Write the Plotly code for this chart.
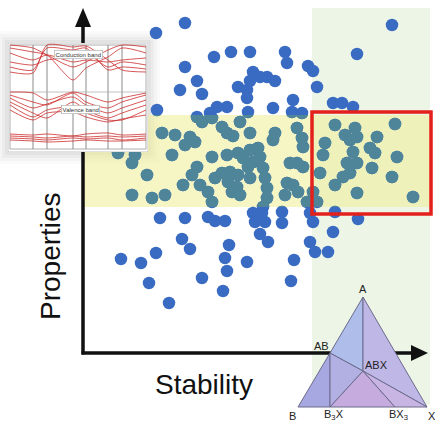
import plotly.graph_objects as go

W, H = 435, 427

# ---------------- data (chart units = picture pixels, y downwards) ----------------
# above the highlighted band
top_x = [185, 156, 392, 357, 214, 231, 250, 285, 287, 185, 308, 313, 253, 197, 250, 267, 275, 260, 238, 247,
         180, 202, 317, 247, 293, 157, 217, 227, 210, 248, 273, 292, 302, 333, 342, 353, 197]
top_y = [23, 33, 25, 54, 57, 52, 52, 52, 63, 67, 66, 71, 72, 81, 81, 77, 81, 77, 87, 90,
         90, 94, 87, 98, 100, 110, 107, 107, 113, 112, 108, 112, 113, 103, 103, 107, 117]
# inside the band, left of the selection box
band_x = [118, 135, 132, 132, 162, 175, 190, 195, 185, 172, 202, 212, 222, 227, 233, 240, 250, 212, 227, 238,
          250, 258, 260, 273, 275, 297, 302, 303, 197, 192, 183, 200, 215, 222, 230, 238, 228, 208, 212, 232,
          237, 240, 250, 253, 263, 265, 267, 267, 263, 248, 243, 287, 293, 285, 298, 303, 297, 307, 165, 152,
          147, 313, 317, 290]
band_y = [153, 155, 163, 195, 133, 135, 137, 142, 145, 155, 122, 118, 127, 133, 136, 122, 133, 157, 155, 153,
          150, 148, 157, 140, 133, 128, 138, 147, 167, 175, 185, 185, 178, 173, 172, 175, 182, 192, 202, 192,
          187, 195, 178, 162, 168, 178, 188, 198, 207, 167, 158, 183, 185, 195, 192, 167, 163, 202, 195, 198,
          175, 192, 202, 163]
# inside the red selection box
box_x = [335, 345, 355, 357, 350, 395, 377, 370, 375, 325, 323, 353, 347, 357, 343, 335, 320, 372, 397, 392,
         357, 413, 350]
box_y = [125, 135, 128, 137, 140, 124, 137, 148, 153, 143, 155, 152, 163, 163, 177, 185, 173, 168, 157, 177,
         193, 197, 173]
# below the band
low_x = [160, 185, 208, 215, 225, 253, 262, 255, 265, 260, 268, 282, 282, 310, 313, 335, 358, 333, 182,
         190, 229, 310, 315, 328, 121, 141, 156, 225, 247, 227, 294, 149, 202, 223, 291, 169]
low_y = [218, 218, 217, 221, 221, 213, 213, 222, 222, 234, 242, 212, 223, 213, 222, 212, 219, 232, 239,
         249, 245, 242, 252, 252, 259, 263, 253, 258, 262, 271, 260, 283, 278, 291, 281, 303]

stability = top_x + band_x + box_x + low_x
properties = top_y + band_y + box_y + low_y

# band-structure inset: k-path positions and band energies (picture pixels)
k_path = [10, 33, 47, 73, 86, 108, 122, 146]
conduction_bands = [
    [45, 48, 55, 67, 62, 50, 45, 47],
    [48, 52, 55, 80, 68, 57, 48, 53],
    [53, 60, 55, 62, 60, 62, 60, 58],
    [62, 65, 60, 57, 53, 67, 62, 65],
    [67, 70, 48, 50, 48, 70, 67, 69],
    [72, 73, 45, 47, 46, 60, 70, 72],
]
valence_bands = [
    [92, 93, 100, 92, 95, 102, 98, 93],
    [95, 102, 105, 93, 102, 108, 102, 95],
    [98, 108, 104, 97, 105, 113, 108, 100],
    [102, 113, 118, 102, 110, 118, 113, 105],
    [105, 117, 110, 107, 113, 120, 120, 110],
    [110, 120, 113, 112, 117, 122, 119, 115],
]
core_bands = [
    [134, 135, 134, 136, 134, 133, 135, 134],
    [136, 137, 138, 136, 137, 136, 137, 136],
    [138, 139, 140, 138, 139, 138, 140, 138],
    [140, 141, 142, 141, 140, 141, 141, 140],
]
k_lines = [33, 47, 73, 86, 108, 122]

# ternary phase diagram
tern = {"A": (363, 297), "B": (298, 407), "X": (427, 407), "AB": (330, 353),
        "B3X": (330, 407), "BX3": (395, 407), "ABX": (363, 371)}
tern_regions = [
    (["A", "AB", "ABX"], "#aebde9"),
    (["A", "ABX", "X"], "#bfb7e6"),
    (["AB", "B", "B3X"], "#a7a8e2"),
    (["AB", "B3X", "ABX"], "#b2b0e3"),
    (["B3X", "ABX", "BX3"], "#c6abdf"),
    (["ABX", "X", "BX3"], "#c9b5e3"),
]
tern_labels = [("A", 363, 289, "center"), ("AB", 321, 346, "center"), ("ABX", 376, 365, "center"),
               ("B", 292, 416, "center"), ("B<sub>3</sub>X", 334, 415, "center"),
               ("BX<sub>3</sub>", 398, 415, "center"), ("X", 426, 416, "left")]

# layout positions
AX_X, AX_Y = 83, 353
BAND_Y0, BAND_Y1 = 115, 207
BAND_X0, BAND_X1 = 83, 432
GREEN_X0, GREEN_X1, GREEN_Y0, GREEN_Y1 = 312, 430, 8, 405
BOX = (312, 112, 431, 214)
INSET = (8, 43, 148, 152)

BLUE = "#3a6bc2"
TEAL = "#4f8598"

fig = go.Figure()

fig.add_trace(go.Scatter(x=stability, y=properties, mode="markers", xaxis="x", yaxis="y",
                         marker=dict(size=12.5, color=BLUE, line=dict(width=0)), hoverinfo="skip"))
fig.add_trace(go.Scatter(x=stability, y=properties, mode="markers", xaxis="x2", yaxis="y2",
                         cliponaxis=True,
                         marker=dict(size=12.5, color=TEAL, line=dict(width=0)), hoverinfo="skip"))

for bands in (conduction_bands, valence_bands, core_bands):
    for b in bands:
        fig.add_trace(go.Scatter(x=k_path, y=b, mode="lines", xaxis="x3", yaxis="y3",
                                 line=dict(color="rgba(205,45,45,0.8)", width=1, shape="spline", smoothing=0.7),
                                 hoverinfo="skip"))

shapes = []
for i, a in enumerate([0.02, 0.025, 0.03, 0.035]):
    d = 12 - 3 * i
    shapes.append(dict(type="rect", xref="x", yref="y", layer="below",
                       x0=INSET[0] - d, y0=INSET[1] - d, x1=INSET[2] + d, y1=INSET[3] + d,
                       fillcolor=f"rgba(0,0,0,{a})", line=dict(width=0)))
shapes.append(dict(type="rect", xref="x", yref="y", layer="below",
                   x0=GREEN_X0, x1=GREEN_X1, y0=GREEN_Y0, y1=GREEN_Y1,
                   fillcolor="#edf5e6", line=dict(width=0)))
shapes.append(dict(type="rect", xref="x", yref="y", layer="below",
                   x0=BAND_X0, x1=BAND_X1, y0=BAND_Y0, y1=BAND_Y1,
                   fillcolor="rgba(238,238,150,0.55)", line=dict(width=0)))
shapes.append(dict(type="line", xref="x", yref="y", layer="below", x0=AX_X, y0=AX_Y + 1.5, x1=AX_X, y1=24,
                   line=dict(color="#111", width=3.5)))
shapes.append(dict(type="path", xref="x", yref="y", layer="below",
                   path=f"M{AX_X - 8},27 L{AX_X},8 L{AX_X + 8},27 Z", fillcolor="#111", line=dict(width=0)))
shapes.append(dict(type="line", xref="x", yref="y", layer="below", x0=AX_X - 1.5, y0=AX_Y, x1=414, y1=AX_Y,
                   line=dict(color="#111", width=3.5)))
shapes.append(dict(type="path", xref="x", yref="y", layer="below",
                   path=f"M411,{AX_Y - 8} L428,{AX_Y} L411,{AX_Y + 8} Z", fillcolor="#111", line=dict(width=0)))
for verts, col in tern_regions:
    pts = [tern[v] for v in verts]
    p = "M" + " L".join(f"{x},{y}" for x, y in pts) + " Z"
    shapes.append(dict(type="path", xref="x", yref="y", layer="below", path=p,
                       fillcolor=col, line=dict(color="#6b6b8c", width=1)))
shapes.append(dict(type="rect", xref="x", yref="y", layer="above",
                   x0=BOX[0], y0=BOX[1], x1=BOX[2], y1=BOX[3],
                   fillcolor="rgba(0,0,0,0)", line=dict(color="#e3201b", width=3.5)))
shapes.append(dict(type="rect", xref="x3", yref="y3", layer="below",
                   x0=INSET[0], y0=INSET[1], x1=INSET[2], y1=INSET[3],
                   fillcolor="white", line=dict(color="#c4c4c4", width=1)))
shapes.append(dict(type="rect", xref="x3", yref="y3", layer="below",
                   x0=10, y0=45, x1=146, y1=149,
                   fillcolor="white", line=dict(color="#9a9a9a", width=0.8)))
for kx in k_lines:
    shapes.append(dict(type="line", xref="x3", yref="y3", layer="below",
                       x0=kx, x1=kx, y0=45, y1=149, line=dict(color="#8a8a8a", width=1)))
shapes.append(dict(type="line", xref="x3", yref="y3", layer="below",
                   x0=10, x1=146, y0=92, y1=92, line=dict(color="#b0b0b0", width=0.8)))

annotations = [
    dict(x=50, y=256, xref="x", yref="y", text="Properties", textangle=-90, showarrow=False,
         font=dict(family="Liberation Sans", size=28, color="#111")),
    dict(x=204, y=384, xref="x", yref="y", text="Stability", showarrow=False,
         font=dict(family="Liberation Sans", size=28, color="#111")),
]
for txt, x, y, anc in tern_labels:
    annotations.append(dict(x=x, y=y, xref="x", yref="y", text=txt, showarrow=False, xanchor=anc,
                            font=dict(family="Liberation Sans", size=11, color="#222")))
annotations.append(dict(x=78, y=54, xref="x3", yref="y3", text="Conduction band", showarrow=False,
                        bgcolor="white", bordercolor="#a8a8a8", borderwidth=0.6, borderpad=1,
                        font=dict(family="Liberation Sans", size=6, color="#333")))
annotations.append(dict(x=80, y=109, xref="x3", yref="y3", text="Valence band", showarrow=False,
                        bgcolor="white", bordercolor="#a8a8a8", borderwidth=0.6, borderpad=1,
                        font=dict(family="Liberation Sans", size=6, color="#333")))

hidden = dict(visible=False, fixedrange=True)
fig.update_layout(
    width=W, height=H, autosize=False, margin=dict(l=0, r=0, t=0, b=0, pad=0),
    paper_bgcolor="white", plot_bgcolor="rgba(0,0,0,0)", showlegend=False,
    xaxis=dict(range=[0, W], domain=[0, 1], **hidden),
    yaxis=dict(range=[H, 0], domain=[0, 1], **hidden),
    xaxis2=dict(range=[BAND_X0, BAND_X1], domain=[BAND_X0 / W, BAND_X1 / W], anchor="y2", **hidden),
    yaxis2=dict(range=[BAND_Y1, BAND_Y0], domain=[1 - BAND_Y1 / H, 1 - BAND_Y0 / H], anchor="x2", **hidden),
    xaxis3=dict(range=[INSET[0], INSET[2]], domain=[INSET[0] / W, INSET[2] / W], anchor="y3", **hidden),
    yaxis3=dict(range=[INSET[3], INSET[1]], domain=[1 - INSET[3] / H, 1 - INSET[1] / H], anchor="x3", **hidden),
    shapes=shapes, annotations=annotations,
)

fig.write_html("out.html", config={"displayModeBar": False},
               post_script="document.body.style.margin='0px';document.body.style.overflow='hidden';")
